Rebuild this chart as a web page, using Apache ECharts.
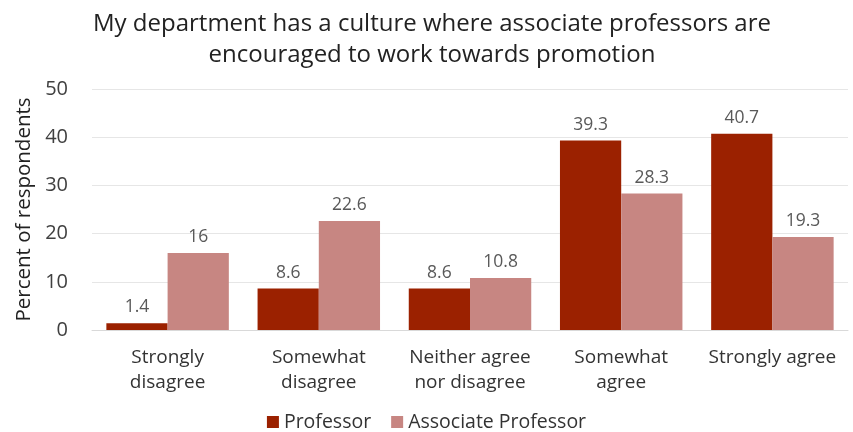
<!DOCTYPE html>
<html><head><meta charset="utf-8">
<script src="https://cdn.jsdelivr.net/npm/echarts@6/dist/echarts.min.js"></script>
<style>html,body{margin:0;padding:0;background:#fff}#c{width:853px;height:432px}</style>
</head><body><div id="c"></div>
<script>
const categories = ['Strongly\ndisagree', 'Somewhat\ndisagree', 'Neither agree\nnor disagree', 'Somewhat\nagree', 'Strongly agree'];
const professor = [1.4, 8.6, 8.6, 39.3, 40.7];
const assocProfessor = [16, 22.6, 10.8, 28.3, 19.3];
const yTicks = [0, 10, 20, 30, 40, 50];

const FONT = 'Open Sans';
const chart = echarts.init(document.getElementById('c'), null, {renderer: 'canvas'});
const labelStyle = {show: true, position: 'top', distance: 7, color: '#595959', fontSize: 17.5, fontFamily: FONT};
chart.setOption({
  animation: false,
  title: {
    text: 'My department has a culture where associate professors are\nencouraged to work towards promotion',
    left: 427, top: 4, textAlign: 'center',
    textStyle: {fontFamily: FONT, fontSize: 24, fontWeight: 'normal', color: '#222', lineHeight: 31}
  },
  grid: {left: 92, right: 5, top: 89, bottom: 102},
  legend: {
    bottom: -5, left: 'center', itemWidth: 12, itemHeight: 12, itemGap: 20,
    icon: 'rect',
    textStyle: {fontFamily: FONT, fontSize: 19.5, color: '#333'},
    data: ['Professor', 'Associate Professor']
  },
  xAxis: {
    type: 'category', data: categories,
    axisLine: {lineStyle: {color: '#d9d9d9'}}, axisTick: {show: false},
    axisLabel: {fontFamily: FONT, fontSize: 19, color: '#333', lineHeight: 25, margin: 15, interval: 0}
  },
  yAxis: {
    type: 'value', min: yTicks[0], max: yTicks[yTicks.length - 1], interval: 10,
    name: 'Percent of respondents', nameLocation: 'middle', nameGap: 57, nameRotate: 90,
    nameTextStyle: {fontFamily: FONT, fontSize: 20.5, color: '#222'},
    axisLabel: {fontFamily: FONT, fontSize: 20, color: '#404040', margin: 24},
    splitLine: {lineStyle: {color: '#e6e6e6'}},
    axisLine: {show: false}, axisTick: {show: false}
  },
  series: [
    {name: 'Professor', type: 'bar', data: professor, barGap: '0%', barCategoryGap: '19%',
     itemStyle: {color: '#9B2100'}, label: labelStyle},
    {name: 'Associate Professor', type: 'bar', data: assocProfessor,
     itemStyle: {color: '#C78682'}, label: labelStyle}
  ]
});
</script></body></html>
